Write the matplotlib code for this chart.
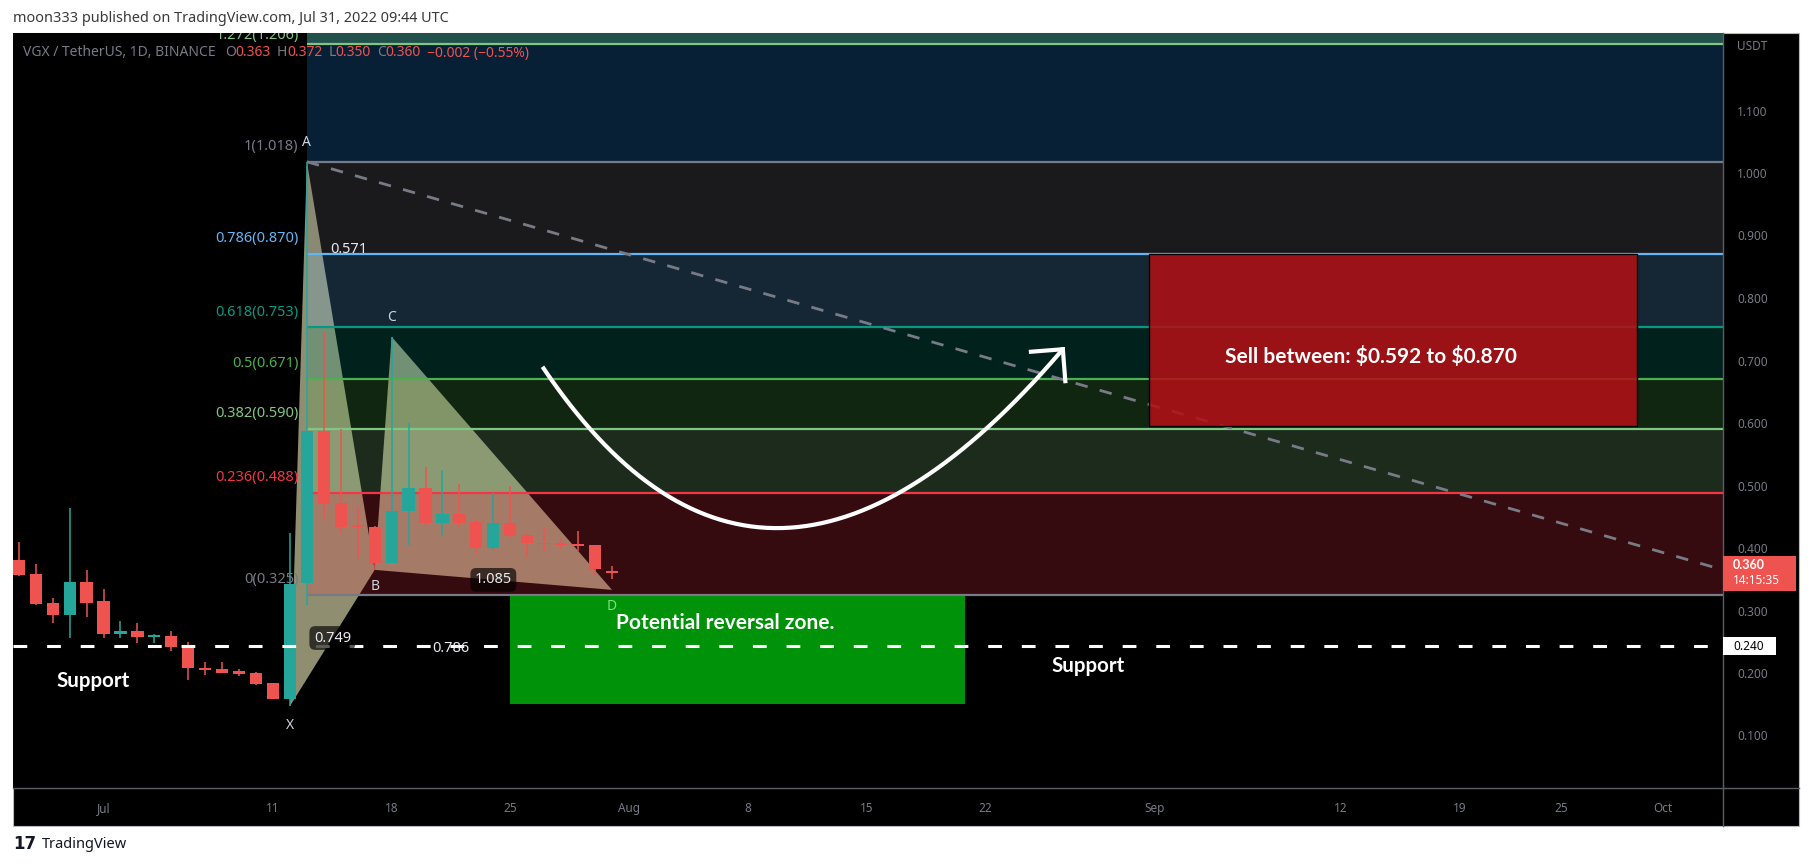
import matplotlib
matplotlib.use("Agg")
import matplotlib.pyplot as plt
from matplotlib.patches import Rectangle, Polygon
from matplotlib.lines import Line2D
import numpy as np

plt.rcParams['font.family'] = ['Noto Sans', 'DejaVu Sans']
BOLD_FAMILY = ['Lato', 'DejaVu Sans']

# ---------------- data ----------------
# candle day offsets from 2022-07-01
candle_days = list(range(-5, 31))
opens  = [0.381, 0.358, 0.312, 0.293, 0.346, 0.315, 0.262, 0.267, 0.258, 0.259, 0.243, 0.208,
          0.206, 0.203, 0.200, 0.184, 0.158, 0.344, 0.587, 0.472, 0.435, 0.434, 0.376, 0.459,
          0.496, 0.440, 0.454, 0.442, 0.400, 0.440, 0.421, 0.408, 0.406, 0.406, 0.405, 0.363]
highs  = [0.410, 0.374, 0.320, 0.464, 0.365, 0.334, 0.283, 0.280, 0.262, 0.267, 0.250, 0.218,
          0.218, 0.206, 0.202, 0.184, 0.424, 1.018, 0.746, 0.590, 0.464, 0.435, 0.738, 0.600,
          0.530, 0.525, 0.502, 0.446, 0.488, 0.499, 0.424, 0.432, 0.414, 0.427, 0.405, 0.372]
lows   = [0.355, 0.309, 0.280, 0.256, 0.290, 0.256, 0.256, 0.248, 0.248, 0.235, 0.189, 0.197,
          0.200, 0.195, 0.181, 0.158, 0.147, 0.309, 0.446, 0.424, 0.384, 0.366, 0.376, 0.405,
          0.435, 0.419, 0.434, 0.392, 0.397, 0.416, 0.386, 0.394, 0.398, 0.395, 0.355, 0.350]
closes = [0.357, 0.310, 0.293, 0.346, 0.312, 0.262, 0.267, 0.258, 0.261, 0.242, 0.208, 0.205,
          0.200, 0.198, 0.182, 0.158, 0.342, 0.587, 0.470, 0.434, 0.434, 0.376, 0.459, 0.496,
          0.440, 0.454, 0.440, 0.400, 0.440, 0.419, 0.408, 0.406, 0.405, 0.403, 0.366, 0.360]

fib_ratios = ['0', '0.236', '0.382', '0.5', '0.618', '0.786', '1', '1.272']
fib_prices = [0.325, 0.488, 0.590, 0.671, 0.753, 0.870, 1.018, 1.206]
fib_line_colors = ['#787b86', '#f23645', '#81c784', '#4caf50', '#089981', '#64b5f6', '#787b86', '#81c784']
fib_band_colors = ['#f23645', '#81c784', '#4caf50', '#089981', '#64b5f6', '#787b86', '#2196f3']
fib_start_day = 12

pattern_names = ['X', 'A', 'B', 'C', 'D']
pattern_days = [11, 12, 16, 17, 30]
pattern_prices = [0.147, 1.018, 0.365, 0.738, 0.333]
ratio_pairs = [('X', 'B'), ('A', 'C'), ('B', 'D'), ('X', 'D')]
ratio_values = ['0.749', '0.571', '1.085', '0.786']
ratio_boxed = [True, False, True, False]

trend_days = [12, 95.55]
trend_prices = [1.018, 0.365]

support_price = 0.243
support_label = '0.240'
support_text_pos = [(-0.6, 0.187), (58.1, 0.211)]

prz_days = [24, 50.8]
prz_prices = [0.150, 0.325]
prz_text = 'Potential reversal zone.'
prz_text_pos = (36.7, 0.280)

sell_days = [61.7, 90.5]
sell_prices = [0.596, 0.870]
sell_text = 'Sell between: \\$0.592 to \\$0.870'
sell_text_pos = (74.8, 0.706)

arrow_start = (25.9, 0.690)
arrow_ctrl = (39.0, 0.160)
arrow_end = (56.6, 0.718)

tick_days = [0, 10, 17, 24, 31, 38, 45, 52, 62, 73, 80, 86, 92]
tick_labels = ['Jul', '11', '18', '25', 'Aug', '8', '15', '22', 'Sep', '12', '19', '25', 'Oct']
price_ticks = [0.1, 0.2, 0.3, 0.4, 0.5, 0.6, 0.7, 0.8, 0.9, 1.0, 1.1]

last_price = 0.360
countdown = '14:15:35'
change_text = '\u22120.002 (\u22120.55%)'

# ---------------- figure ----------------
W, H = 1813, 866
fig = plt.figure(figsize=(W / 100, H / 100), dpi=100)
fig.patch.set_facecolor('white')


def fx(px):
    return px / W


def fy(py):
    return 1 - py / H


PANEL_L, PANEL_T, PANEL_R, PANEL_B = 13, 33, 1799, 826
PLOT_R, PLOT_B = 1723, 788
AXIS_GRAY = '#787b86'
UP, DOWN = '#26a69a', '#ef5350'

fig.add_artist(Rectangle((fx(PANEL_L), fy(PANEL_B)), fx(PANEL_R) - fx(PANEL_L), fy(PANEL_T) - fy(PANEL_B),
                         transform=fig.transFigure, facecolor='black', edgecolor='#b8bbc4', lw=0.8, zorder=-5))

ax = fig.add_axes([fx(PANEL_L), fy(PLOT_B), fx(PLOT_R) - fx(PANEL_L), fy(PANEL_T) - fy(PLOT_B)])
ax.set_facecolor('black')
XMIN, XMAX = -5.34, 95.55
YMIN, YMAX = 0.016, 1.224
ax.set_xlim(XMIN, XMAX)
ax.set_ylim(YMIN, YMAX)
for s in ax.spines.values():
    s.set_visible(False)

# axes ticks
ax.yaxis.tick_right()
ax.set_yticks(price_ticks)
ax.set_yticklabels([f'{v:.3f}' for v in price_ticks])
ax.tick_params(axis='y', length=0, pad=10, labelcolor=AXIS_GRAY, labelsize=8.5)
ax.set_xticks(tick_days)
ax.set_xticklabels(tick_labels)
ax.tick_params(axis='x', length=0, pad=10, labelcolor=AXIS_GRAY, labelsize=8.5)

# ---- harmonic pattern fill (under fib bands) ----
pts = {n: (d, p) for n, d, p in zip(pattern_names, pattern_days, pattern_prices)}
ax.add_patch(Polygon([pts['X'], pts['A'], pts['B']], closed=True, facecolor='#908e70', edgecolor='none', zorder=1))
ax.add_patch(Polygon([pts['B'], pts['C'], pts['D']], closed=True, facecolor='#908e70', edgecolor='none', zorder=1))

# ---- fib bands and lines ----
for i in range(len(fib_prices) - 1):
    ax.add_patch(Rectangle((fib_start_day, fib_prices[i]), XMAX - fib_start_day, fib_prices[i + 1] - fib_prices[i],
                           facecolor=fib_band_colors[i], alpha=0.22, edgecolor='none', zorder=2))
ax.add_patch(Rectangle((fib_start_day, fib_prices[-1]), XMAX - fib_start_day, 1.0,
                       facecolor='#22504b', edgecolor='none', zorder=2))
for r, p, c in zip(fib_ratios, fib_prices, fib_line_colors):
    ax.plot([fib_start_day, XMAX], [p, p], color=c, lw=1.6, zorder=3, solid_capstyle='butt')
    near_top = (YMAX - p) < 0.04
    t_ = ax.annotate(f'{r}({p:.3f})', xy=(fib_start_day, p), xytext=(-6, 6 if near_top else 11),
                     textcoords='offset points', ha='right', va='center', color=c, fontsize=10.5,
                     zorder=10, annotation_clip=False)
    t_.set_clip_on(True)
    t_.set_clip_box(ax.bbox)

# ---- green PRZ box ----
ax.add_patch(Rectangle((prz_days[0], prz_prices[0]), prz_days[1] - prz_days[0], prz_prices[1] - prz_prices[0],
                       facecolor='#009208', edgecolor='none', zorder=2.5))

# ---- candles ----
for d, o, h, l, c in zip(candle_days, opens, highs, lows, closes):
    col = UP if c >= o else DOWN
    ax.plot([d, d], [l, h], color=col, lw=1.1, zorder=4, solid_capstyle='butt')
    lo, hi = min(o, c), max(o, c)
    ax.add_patch(Rectangle((d - 0.36, lo), 0.72, max(hi - lo, 0.0028), facecolor=col, edgecolor='none', zorder=4.1))

# ---- trend dashed line ----
ax.plot(trend_days, trend_prices, color=AXIS_GRAY, lw=2, dashes=(4.5, 4.5), zorder=6)

# ---- red sell box ----
ax.add_patch(Rectangle((sell_days[0], sell_prices[0]), sell_days[1] - sell_days[0], sell_prices[1] - sell_prices[0],
                       facecolor='#b01016', alpha=0.88, edgecolor='none', zorder=7))
ax.add_patch(Rectangle((sell_days[0], sell_prices[0]), sell_days[1] - sell_days[0], sell_prices[1] - sell_prices[0],
                       facecolor='none', edgecolor='black', lw=1.0, zorder=7.1))
ax.text(*sell_text_pos, sell_text, color='white', fontsize=15, fontweight='bold', family=BOLD_FAMILY,
        ha='center', va='center', zorder=10)

# ---- support line ----
ax.plot([XMIN, XMAX], [support_price, support_price], color='white', lw=2.2, dashes=(4.5, 6.5), zorder=8)
for (sx, sy) in support_text_pos:
    ax.text(sx, sy, 'Support', color='white', fontsize=14.8, fontweight='bold', family=BOLD_FAMILY,
            ha='center', va='center', zorder=10)
ax.text(*prz_text_pos, prz_text, color='white', fontsize=15, fontweight='bold', family=BOLD_FAMILY,
        ha='center', va='center', zorder=10)

# ---- pattern labels ----
label_offsets = {'X': -14, 'A': 14, 'B': -12, 'C': 14, 'D': -12}
for n in pattern_names:
    col = '#7ee07e' if n == 'D' else '#d1d4dc'
    ax.annotate(n, xy=pts[n], xytext=(0, label_offsets[n]), textcoords='offset points', ha='center', va='center',
                color=col, fontsize=10, zorder=10)
for (a, b), val, boxed in zip(ratio_pairs, ratio_values, ratio_boxed):
    mx = (pts[a][0] + pts[b][0]) / 2
    my = (pts[a][1] + pts[b][1]) / 2
    bbox = dict(boxstyle='round,pad=0.3,rounding_size=0.4', facecolor='black', alpha=0.65, edgecolor='none') if boxed else None
    ax.text(mx, my, val, color='#e8e9ee', fontsize=10.5, ha='center', va='center', zorder=10, bbox=bbox)

# ---- curved arrow ----
t = np.linspace(0, 1, 200)[:, None]
P0, P1, P2 = np.array(arrow_start), np.array(arrow_ctrl), np.array(arrow_end)
curve = (1 - t) ** 2 * P0 + 2 * t * (1 - t) * P1 + t ** 2 * P2
ax.plot(curve[:, 0], curve[:, 1], color='white', lw=3, zorder=9, solid_capstyle='butt')
e_disp = ax.transData.transform(P2)
c_disp = ax.transData.transform(P1)
back = (c_disp - e_disp) / np.linalg.norm(c_disp - e_disp)
for ang in (np.deg2rad(45), np.deg2rad(-45)):
    rot = np.array([[np.cos(ang), -np.sin(ang)], [np.sin(ang), np.cos(ang)]])
    hp = e_disp + 32 * rot @ back
    hd = ax.transData.inverted().transform([e_disp, hp])
    ax.plot(hd[:, 0], hd[:, 1], color='white', lw=3, zorder=9, solid_capstyle='projecting')

# ---- separators ----
fig.add_artist(Line2D([fx(PLOT_R), fx(PLOT_R)], [fy(PANEL_T), fy(PANEL_B)], transform=fig.transFigure,
                      color='#5a5d66', lw=1, zorder=5))
fig.add_artist(Line2D([fx(PANEL_L), fx(PANEL_R)], [fy(PLOT_B), fy(PLOT_B)], transform=fig.transFigure,
                      color='#5a5d66', lw=1, zorder=5))

# ---- price axis labels ----
def price_to_py(p):
    disp = ax.transData.transform((0, p))
    return H - disp[1]


fig.text(fx(1737), fy(47), 'USDT', color=AXIS_GRAY, fontsize=8.5, va='center', ha='left', zorder=6)
py = price_to_py(last_price)
fig.add_artist(Rectangle((fx(PLOT_R), fy(py + 18)), fx(1796) - fx(PLOT_R), fy(py - 17) - fy(py + 18),
                         transform=fig.transFigure, facecolor=DOWN, edgecolor='none', zorder=6))
fig.text(fx(1733), fy(py - 8), f'{last_price:.3f}', color='white', fontsize=9, fontweight='bold',
         family=BOLD_FAMILY, va='center', zorder=7)
fig.text(fx(1733), fy(py + 8), countdown, color='white', fontsize=8.5, va='center', zorder=7)
py = price_to_py(support_price)
fig.add_artist(Rectangle((fx(PLOT_R), fy(py + 9)), fx(1776) - fx(PLOT_R), fy(py - 9) - fy(py + 9),
                         transform=fig.transFigure, facecolor='white', edgecolor='none', zorder=6))
fig.text(fx(1733), fy(py), support_label, color='black', fontsize=8.5, va='center', zorder=7)

# ---- headers ----
fig.text(fx(13), fy(18), 'moon333 published on TradingView.com, Jul 31, 2022 09:44 UTC',
         color='#3a3a3a', fontsize=10.4, va='center', ha='left')
renderer = fig.canvas.get_renderer()
hdr_y = fy(53)
hdr = [('VGX / TetherUS, 1D, BINANCE', AXIS_GRAY, 9), ('O', AXIS_GRAY, 0), (f'{opens[-1]:.3f}', DOWN, 6),
       ('H', AXIS_GRAY, 0), (f'{highs[-1]:.3f}', DOWN, 6), ('L', AXIS_GRAY, 0), (f'{lows[-1]:.3f}', DOWN, 6),
       ('C', AXIS_GRAY, 0), (f'{closes[-1]:.3f}', DOWN, 6), (change_text, DOWN, 0)]
xcur = 23
for s, c, gap in hdr:
    tt = fig.text(fx(xcur), hdr_y, s, color=c, fontsize=10, va='center', ha='left', zorder=10)
    xcur += tt.get_window_extent(renderer).width + gap

# ---- TradingView footer ----
fig.text(fx(13), fy(844), '17', color='#131722', fontsize=12, fontweight='bold', family=['DejaVu Sans'],
         va='center', ha='left')
fig.text(fx(42), fy(844), 'TradingView', color='#131722', fontsize=10.5, va='center', ha='left')

fig.savefig('out.png', dpi=100, facecolor='white')
